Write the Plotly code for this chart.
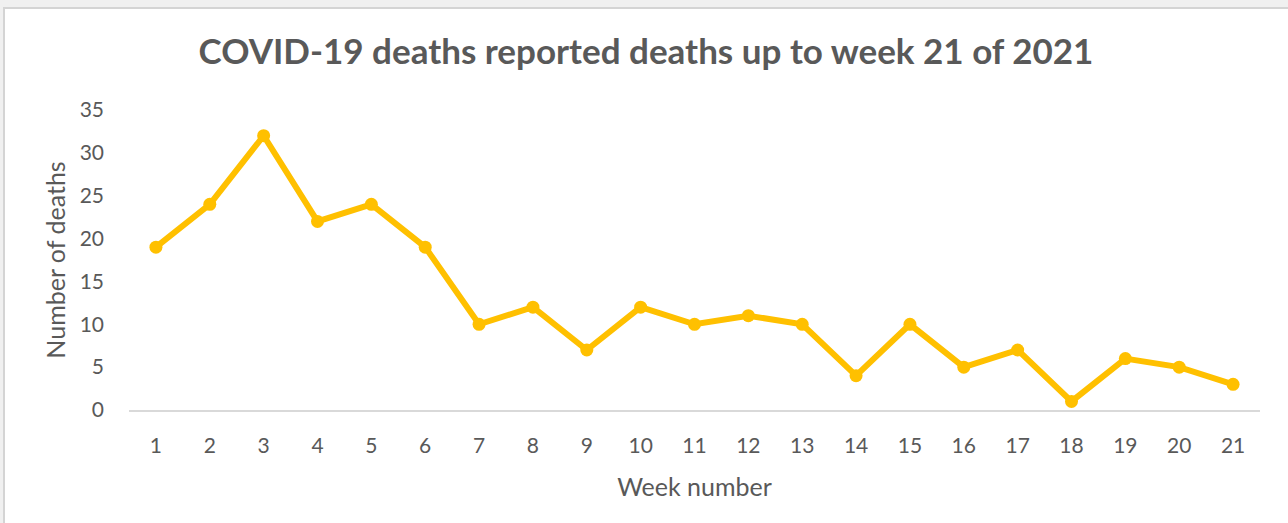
import plotly.graph_objects as go

weeks = [str(i) for i in range(1, 22)]
deaths = [19, 24, 32, 22, 24, 19, 10, 12, 7, 12, 10, 11, 10, 4, 10, 5, 7, 1, 6, 5, 3]
y_ticks = [0, 5, 10, 15, 20, 25, 30, 35]

W, H = 1288, 523
L, R, T, B = 129, 28, 110, 113
pw, ph = W - L - R, H - T - B

def px_x(p):
    return (p - L) / pw

def px_y(p):
    return (H - B - p) / ph

txt = "#595959"
font_family = "Lato"

fig = go.Figure()
fig.add_trace(go.Scatter(
    x=weeks, y=deaths, mode="lines+markers",
    line=dict(color="#FFC000", width=6),
    marker=dict(color="#FFC000", size=13),
    showlegend=False, cliponaxis=False,
))

fig.update_layout(
    width=W, height=H,
    margin=dict(l=L, r=R, t=T, b=B),
    paper_bgcolor="#f0f0f0",
    plot_bgcolor="rgba(0,0,0,0)",
    font=dict(family=font_family, color=txt),
    title=dict(
        text="<b>COVID-19 deaths reported deaths up to week 21 of 2021</b>",
        x=px_x(646), xref="paper", xanchor="center",
        y=1 - 52 / H, yanchor="middle",
        font=dict(size=35, color=txt, family=font_family),
    ),
    shapes=[dict(
        type="rect", xref="paper", yref="paper", layer="below",
        x0=px_x(4), x1=px_x(1300), y0=px_y(540), y1=px_y(8),
        fillcolor="white", line=dict(color="#d4d4d4", width=2),
    )],
    xaxis=dict(
        type="category", range=[-0.5, 20.5],
        showgrid=False, zeroline=False,
        showline=True, linecolor="#d9d9d9", linewidth=2,
        ticks="", tickfont=dict(size=21, color=txt),
        ticklabelstandoff=16,
        title=dict(text="Week number", font=dict(size=25, color=txt), standoff=22),
    ),
    yaxis=dict(
        range=[0, 35], tickvals=y_ticks,
        showgrid=False, zeroline=False, showline=False,
        ticks="", tickfont=dict(size=21, color=txt),
        ticklabelstandoff=24,
        title=dict(text="Number of deaths", font=dict(size=25, color=txt), standoff=6),
    ),
)

fig.write_html(
    "out.html",
    config={"displayModeBar": False},
    post_script="document.body.style.margin='0';document.body.style.overflow='hidden';",
)
